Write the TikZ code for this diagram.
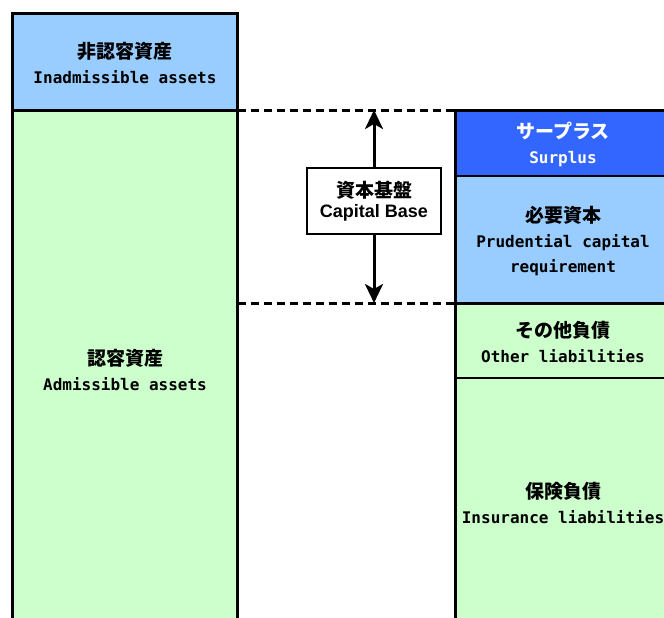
\documentclass[tikz,border=0pt]{standalone}
\usepackage{fontspec}
\usepackage{xcolor}
\setmainfont{Liberation Sans}
\newfontfamily\jpfont{Noto Sans CJK JP}
\newfontfamily\enfont{DejaVu Sans Mono}
\usetikzlibrary{arrows.meta}

\definecolor{lightblue}{HTML}{99CCFF}
\definecolor{lightgreen}{HTML}{CCFFCC}
\definecolor{surplusblue}{HTML}{3366FF}

\newcommand{\jptext}[1]{{\jpfont\bfseries\fontsize{19}{25}\selectfont #1}}
\newcommand{\entext}[1]{{\enfont\bfseries\fontsize{16}{25}\selectfont #1}}

\tikzset{
  label/.style={align=center,inner sep=0pt,font=\fontsize{16}{25}\selectfont},
  colline/.style={line width=3pt},
  rowline/.style={line width=2pt},
  dashline/.style={line width=3pt,dash pattern=on 8pt off 5pt},
  captip/.style={line width=3pt,-{Stealth[length=19pt,width=18pt,inset=5pt]}},
}

\begin{document}
\begin{tikzpicture}[x=1pt,y=-1pt]

\def\lx{12.5}
\def\rx{237.5}
\def\px{455}
\def\qx{672}

\useasboundingbox (0,0) rectangle (664,618);
\clip (0,0) rectangle (664,618);

% assets
\fill[lightblue] (\lx,13.5) rectangle (\rx,110);
\fill[lightgreen] (\lx,110) rectangle (\rx,640);
\draw[colline] (\lx,640) -- (\lx,13.5) -- (\rx,13.5) -- (\rx,640);
\draw[colline] (\lx,110) -- (\rx,110);

% liabilities
\fill[surplusblue] (\px,110) rectangle (\qx,176);
\fill[lightblue] (\px,176) rectangle (\qx,303);
\fill[lightgreen] (\px,303) rectangle (\qx,640);
\draw[colline] (\px,640) -- (\px,110) -- (\qx,110);
\draw[rowline] (\px,176) -- (\qx,176);
\draw[colline] (\px,303) -- (\qx,303);
\draw[rowline] (\px,378) -- (\qx,378);

\draw[dashline] (\rx,110) -- (\px,110);
\draw[dashline] (\rx,303) -- (\px,303);

\node[label] (inadm) at (125,63) {\jptext{非認容資産}\\\entext{Inadmissible assets}};
\node[label] (adm) at (125,370) {\jptext{認容資産}\\\entext{Admissible assets}};
\node[label,text=white] (surplus) at (563,144) {\jptext{サープラス}\\\entext{Surplus}};
\node[label] (prudent) at (563,241) {\jptext{必要資本}\\\entext{Prudential capital}\\\entext{requirement}};
\node[label] (otherliab) at (563,342) {\jptext{その他負債}\\\entext{Other liabilities}};
\node[label] (insliab) at (563,503) {\jptext{保険負債}\\\entext{Insurance liabilities}};

% capital base
\coordinate (captop) at (374,110);
\coordinate (capbot) at (374,303);
\node[draw,line width=2pt,fill=white,minimum width=134pt,minimum height=66pt,align=center,inner sep=0pt] (capbase) at (374,201)
  {\jptext{資本基盤}\\[4pt]{\bfseries\fontsize{18}{25}\selectfont Capital Base}};
\draw[captip] (capbase) -- (captop);
\draw[captip] (capbase) -- (capbot);

\end{tikzpicture}
\end{document}
